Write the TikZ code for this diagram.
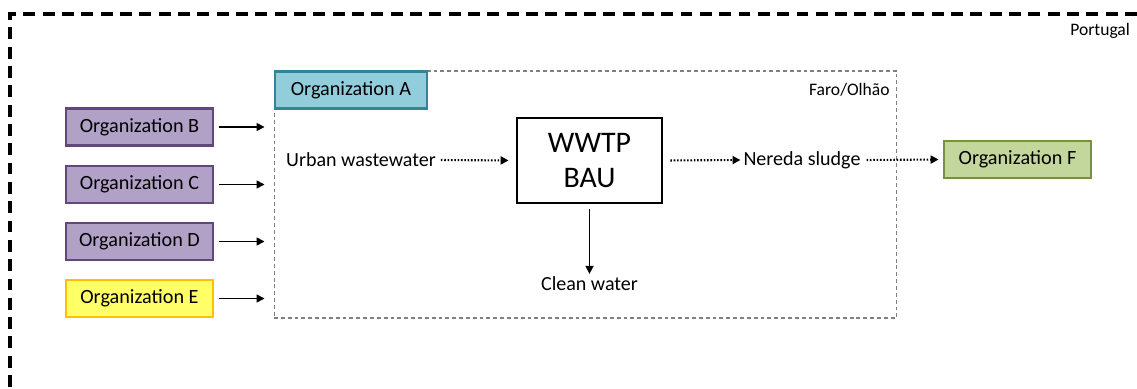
\documentclass[tikz,border=0pt]{standalone}
\usepackage{fontspec}
\setmainfont{Carlito}
\usepackage{tikz}
\usetikzlibrary{positioning,arrows.meta}
\definecolor{orgpurple}{RGB}{178,161,199}
\definecolor{orgpurpleline}{RGB}{96,73,122}
\definecolor{orgyellow}{RGB}{255,255,102}
\definecolor{orgyellowline}{RGB}{255,192,0}
\definecolor{orgblue}{RGB}{146,205,220}
\definecolor{orgblueline}{RGB}{49,133,155}
\definecolor{orggreen}{RGB}{195,214,155}
\definecolor{orggreenline}{RGB}{118,146,60}
\tikzset{
  orgbox/.style={draw, line width=1.6pt, minimum width=2.94cm, minimum height=0.74cm,
                 inner sep=0pt, font=\fontsize{11.5}{13}\selectfont},
  purplebox/.style={orgbox, fill=orgpurple, draw=orgpurpleline},
  flowtext/.style={inner sep=1pt, font=\fontsize{11.4}{13}\selectfont},
  solidarrow/.style={-{Triangle[length=4.5pt,width=4.5pt]}, line width=0.85pt},
  dotarrow/.style={-{Triangle[length=4.5pt,width=4.5pt]}, line width=1.2pt, dash pattern=on 0.9pt off 1pt},
}

\begin{document}
\begin{tikzpicture}[x=0.02cm, y=-0.02cm]
  \useasboundingbox (0,0) rectangle (1137,389);
  % country border, runs off the page on two sides
  \draw[line width=2pt, dash pattern=on 6.8pt off 4.2pt] (1137,14) -- (10,14) -- (10,389);
  \node[anchor=east, inner sep=1pt, font=\fontsize{10}{12}\selectfont] (portugal) at (1132,31) {Portugal};

  % Faro/Olhao region
  \node[draw=black!50, dash pattern=on 2.2pt off 1.7pt, line width=0.6pt,
        minimum width=12.46cm, minimum height=4.94cm] (faro) at (585.5,194.5) {};
  \node[anchor=north east, inner sep=2pt, font=\fontsize{10}{12}\selectfont]
        (farolabel) at ([xshift=-0.08cm,yshift=-0.18cm]faro.north east) {Faro/Olhão};
  \node[orgbox, fill=orgblue, draw=orgblueline, minimum width=3.04cm, anchor=north west]
        (orgA) at (faro.north west) {Organization A};

  % suppliers on the left
  \node[purplebox] (orgB) at (139.5,127) {Organization B};
  \node[purplebox] (orgC) at (139.5,184.5) {Organization C};
  \node[purplebox] (orgD) at (139.5,241.5) {Organization D};
  \node[orgbox, fill=orgyellow, draw=orgyellowline] (orgE) at (139.5,298.5) {Organization E};
  \foreach \o in {orgB,orgC,orgD,orgE}
    \draw[solidarrow, shorten <=0.1cm, shorten >=0.18cm] (\o.east) -- (\o.east -| faro.west);

  % treatment plant and flows
  \node[draw, line width=1.6pt, minimum width=2.9cm, minimum height=1.7cm, align=center,
        font=\fontsize{17}{20}\selectfont] (wwtp) at (589.5,160.5) {WWTP\\BAU};
  \node[flowtext] (urban) at (361,160) {Urban wastewater};
  \node[flowtext] (sludge) at (802,160) {Nereda sludge};
  \node[flowtext] (clean) at (589.5,284) {Clean water};
  \node[orgbox, fill=orggreen, draw=orggreenline] (orgF) at (1017.5,159.5) {Organization F};

  \draw[dotarrow, shorten <=0.06cm, shorten >=0.14cm] (urban.east) -- (wwtp.west);
  \draw[dotarrow, shorten <=0.14cm, shorten >=0.02cm] (wwtp.east) -- (sludge.west);
  \draw[dotarrow, shorten <=0.08cm, shorten >=0.08cm] (sludge.east) -- (orgF.west);
  \draw[solidarrow, shorten <=0.1cm, shorten >=0.02cm] (wwtp.south) -- (wwtp.south |- clean.north);
\end{tikzpicture}
\end{document}
